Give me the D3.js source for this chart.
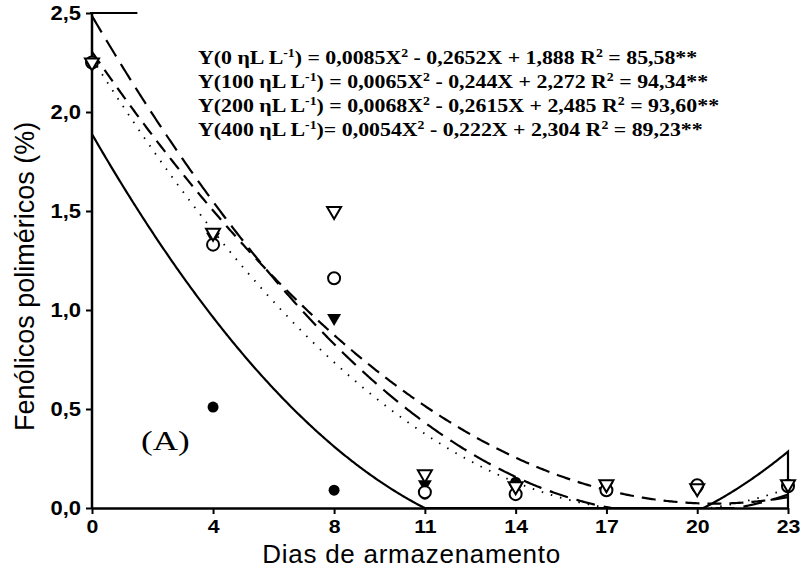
<!DOCTYPE html>
<html><head><meta charset="utf-8">
<script src="https://cdn.jsdelivr.net/npm/d3@7"></script>
<style>body{margin:0;background:#fff}</style>
</head><body>
<svg id="c" width="805" height="571"></svg>
<script>
const days = [0, 4, 8, 11, 14, 17, 20, 23];
const yTicks = [0, 0.5, 1.0, 1.5, 2.0, 2.5];
// observed values per treatment
const s0   = [2.25, 0.51, 0.09, 0.07, 0.13, 0.10, 0.10, 0.12];
const s100 = [2.25, 1.33, 1.16, 0.08, 0.07, 0.09, 0.115, 0.11];
const s200 = [2.25, 1.37, 0.96, 0.12, 0.10, 0.11, 0.10, 0.12];
const s400 = [2.25, 1.39, 1.50, 0.17, 0.11, 0.12, 0.10, 0.12];
// regression coefficients [a, b, c] for a*x^2 + b*x + c
const fit0   = [0.0085, -0.2652, 1.888];
const fit100 = [0.0065, -0.244, 2.272];
const fit200 = [0.0068, -0.2615, 2.485];
const fit400 = [0.0054, -0.222, 2.304];
const legendRows = [
  ["0", "0,0085", "0,2652", "1,888", "85,58", ""],
  ["100", "0,0065", "0,244", "2,272", "94,34", ""],
  ["200", "0,0068", "0,2615", "2,485", "93,60", ""],
  ["400", "0,0054", "0,222", "2,304", "89,23", "nospace"]
];

const svg = d3.select("#c");
const x = d3.scaleLinear().domain([0, 23]).range([92, 788]);
const y = d3.scaleLinear().domain([0, 2.5]).range([508, 13]);
const fmt = v => d3.format(".1f")(v).replace(".", ",");
const SANS = "Liberation Sans, Arial, sans-serif";
const SERIF = "Liberation Serif, Times New Roman, serif";

// axes
const yAxis = d3.axisLeft(y).tickValues(yTicks).tickFormat(fmt).tickSize(6).tickSizeOuter(0).tickPadding(5);
const gy = svg.append("g").attr("transform", `translate(${x(0)},0)`).call(yAxis);
const xAxis = d3.axisBottom(x).tickValues(days).tickFormat(d => d).tickSize(6).tickSizeOuter(0).tickPadding(6);
const gx = svg.append("g").attr("transform", `translate(0,${y(0)})`).call(xAxis);
[gx, gy].forEach(g => {
  g.select(".domain").attr("stroke", "#000").attr("stroke-width", 2.5);
  g.selectAll(".tick line").attr("stroke", "#000").attr("stroke-width", 2);
  g.selectAll(".tick text").attr("fill", "#000").attr("font-family", SANS)
    .attr("font-weight", "bold").attr("font-size", 20);
});
gx.selectAll(".tick text").attr("font-size", 19).attr("transform", "scale(1.12,1)");
gy.selectAll(".tick text").attr("x", 0).attr("transform", "translate(-11,0) scale(1.1,1)");
gy.select(".domain").attr("d", `M0,${y(0)}V${y(2.5)}`);
// top edge segment
svg.append("line").attr("x1", x(0) - 2).attr("x2", x(1.5)).attr("y1", y(2.5)).attr("y2", y(2.5))
  .attr("stroke", "#000").attr("stroke-width", 2);

// titles
svg.append("text").attr("x", x(10.55)).attr("y", 563).attr("text-anchor", "middle")
  .attr("font-family", SANS).attr("font-size", 26).attr("textLength", 298).text("Dias de armazenamento");
svg.append("text").attr("transform", `translate(34,${y(1.17)}) rotate(-90)`).attr("text-anchor", "middle")
  .attr("font-family", SANS).attr("font-size", 27).text("Fenólicos poliméricos (%)");

// fitted curves
const xs = d3.range(0, 23.001, 0.05);
const line = d3.line().x(d => x(d[0])).y(d => y(d[1]));
function curve(f) { return xs.map(v => [v, Math.max(0, f[0] * v * v + f[1] * v + f[2])]); }
const c0 = curve(fit0); c0.push([23, 0]);
svg.append("path").attr("d", line(c0)).attr("fill", "none").attr("stroke", "#000").attr("stroke-width", 2.2);
svg.append("path").attr("d", line(curve(fit100))).attr("fill", "none").attr("stroke", "#000").attr("stroke-width", 1.8).attr("stroke-dasharray", "1.5,8");
svg.append("path").attr("d", line(curve(fit200))).attr("fill", "none").attr("stroke", "#000").attr("stroke-width", 2.2).attr("stroke-dasharray", "19,9");
svg.append("path").attr("d", line(curve(fit400))).attr("fill", "none").attr("stroke", "#000").attr("stroke-width", 2.2).attr("stroke-dasharray", "14,8");

// markers
const tri = d3.symbol().type(d3.symbolTriangle).size(85);
function pts(vals) { return vals.map((v, i) => [days[i], v]); }
svg.append("g").selectAll("circle").data(pts(s0)).join("circle")
  .attr("cx", d => x(d[0])).attr("cy", d => y(d[1])).attr("r", 5.5).attr("fill", "#000");
svg.append("g").selectAll("path").data(pts(s200)).join("path")
  .attr("d", tri).attr("transform", d => `translate(${x(d[0])},${y(d[1])}) rotate(180)`).attr("fill", "#000");
svg.append("g").selectAll("circle").data(pts(s100)).join("circle")
  .attr("cx", d => x(d[0])).attr("cy", d => y(d[1])).attr("r", 6).attr("fill", "#fff").attr("stroke", "#000").attr("stroke-width", 2);
svg.append("g").selectAll("path").data(pts(s400)).join("path")
  .attr("d", tri).attr("transform", d => `translate(${x(d[0])},${y(d[1])}) rotate(180)`).attr("fill", "#fff").attr("stroke", "#000").attr("stroke-width", 2);

// panel label
svg.append("text").attr("transform", "translate(141,450) scale(1.3,1)").attr("font-family", SERIF)
  .attr("font-size", 27).text("(A)");

// equations
const lg = svg.append("g").attr("transform", "translate(198,0) scale(1.15,1)")
  .attr("font-family", SERIF).attr("font-weight", "bold").attr("font-size", 19);
legendRows.forEach((r, i) => {
  const t = lg.append("text").attr("x", 0).attr("y", 64 + i * 24);
  t.append("tspan").text(`Y(${r[0]} ηL L`);
  t.append("tspan").attr("dy", -7).attr("font-size", 12).text("-1");
  t.append("tspan").attr("dy", 7).text(r[5] ? `)= ${r[1]}X` : `) = ${r[1]}X`);
  t.append("tspan").attr("dy", -7).attr("font-size", 12).text("2");
  t.append("tspan").attr("dy", 7).text(` - ${r[2]}X + ${r[3]} R`);
  t.append("tspan").attr("dy", -7).attr("font-size", 12).text("2");
  t.append("tspan").attr("dy", 7).text(` = ${r[4]}**`);
});
</script>
</body></html>
